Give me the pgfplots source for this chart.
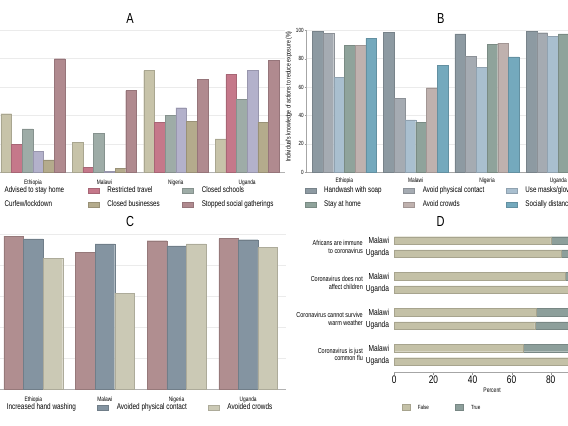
\documentclass[border=0pt]{standalone}
\usepackage{fontspec}
\setmainfont{Liberation Sans}[FakeStretch=0.76]
\usepackage{pgfplots}
\pgfplotsset{compat=1.18}
\definecolor{aBeige}{HTML}{C7C3A9}
\definecolor{aRed}{HTML}{C5788A}
\definecolor{aGreen}{HTML}{9EACA7}
\definecolor{aPurple}{HTML}{B3B1CB}
\definecolor{aTan}{HTML}{B4AB8C}
\definecolor{aMauve}{HTML}{B08A8F}
\definecolor{bHand}{HTML}{8D9AA2}
\definecolor{bPhys}{HTML}{A5ABB2}
\definecolor{bMask}{HTML}{A9BFCF}
\definecolor{bStay}{HTML}{8FA39B}
\definecolor{bCrowd}{HTML}{BFB1AE}
\definecolor{bDist}{HTML}{74A9BD}
\definecolor{cHand}{HTML}{B08E90}
\definecolor{cPhys}{HTML}{8494A1}
\definecolor{cCrowd}{HTML}{CBC9B5}
\definecolor{dFalse}{HTML}{C4C1A7}
\definecolor{dTrue}{HTML}{8D9F9B}
\pgfplotsset{
  ybar legend/.style={legend image code/.code={\draw[##1] (0pt,-2.5pt) rectangle (11pt,2.5pt);}},
  xbar legend/.style={legend image code/.code={\draw[##1] (0pt,-2.5pt) rectangle (11pt,2.5pt);}},
  bargroup/.style={
    ybar=0pt,
    scale only axis, enlargelimits=false,
    ymin=0, ymax=100, xmin=-0.53, xmax=3.53,
    xtick={0,1,2,3}, xticklabels={Ethiopia,Malawi,Nigeria,Uganda},
    xtick style={draw=none},
    ytick={0,20,...,100}, ymajorgrids, grid style={black!8},
    axis x line*=bottom, axis y line*=left, axis line style={black!30},
    xticklabel style={font=\fontsize{6.4}{7}\selectfont, inner sep=0pt, yshift=-3pt},
    legend columns=3, legend cell align=left,
    legend style={draw=none, fill=none, inner sep=0pt, column sep=0pt, row sep=6.2pt,
      anchor=west, nodes={inner sep=0pt, text height=6pt, text depth=1.7pt},
      /tikz/every odd column/.append style={column sep=8pt}},
  },
  barA/.style={fill=#1, draw=#1!85!black, line width=0.3pt},
}
\begin{document}
\begin{tikzpicture}
\useasboundingbox (0,0) rectangle (568pt,426pt);
\clip (0,0) rectangle (568pt,426pt);
\fill[white] (0,0) rectangle (568pt,426pt);

% titles
\node[font=\fontsize{14.5}{15}\selectfont] at (130pt,407.7pt) {A};
\node[font=\fontsize{14.5}{15}\selectfont] at (440.7pt,407.7pt) {B};
\node[font=\fontsize{14.5}{15}\selectfont] at (130pt,204.3pt) {C};
\node[font=\fontsize{14.5}{15}\selectfont] at (440.7pt,204.3pt) {D};

% ---------------- Panel A
\begin{axis}[bargroup, at={(-4.9pt,253.7pt)}, anchor=south west,
  width=289.9pt, height=142pt, bar width=10.7pt,
  yticklabels={}, ytick style={draw=none},
  legend style={at={(-0.0345,-0.1764)}, font=\fontsize{8.2}{9}\selectfont}]
\addplot[barA=aBeige] coordinates {(0,41.3) (1,21.1) (2,71.6) (3,23.5)};
\addlegendentry{\makebox[83.6pt][l]{Advised to stay home}}
\addplot[barA=aRed] coordinates {(0,19.9) (1,3.3) (2,35.2) (3,69.0)};
\addlegendentry{\makebox[75pt][l]{Restricted travel}}
\addplot[barA=aGreen] coordinates {(0,30.5) (1,27.5) (2,40.1) (3,51.6)};
\addlegendentry{Closed schools}
\addplot[barA=aPurple] coordinates {(0,14.8) (1,0.9) (2,45.5) (3,71.6)};
\addlegendentry{\makebox[83.6pt][l]{Curfew/lockdown}}
\addplot[barA=aTan] coordinates {(0,8.7) (1,2.6) (2,35.9) (3,35.4)};
\addlegendentry{\makebox[75pt][l]{Closed businesses}}
\addplot[barA=aMauve] coordinates {(0,80.0) (1,57.5) (2,65.5) (3,78.9)};
\addlegendentry{Stopped social gatherings}
\end{axis}

% ---------------- Panel B
\begin{axis}[bargroup, at={(306.6pt,253.7pt)}, anchor=south west,
  width=289.5pt, height=142pt, bar width=10.7pt,
  axis line style={black!35},
  tick align=outside, major tick length=2pt, ytick style={black!40},
  /pgf/number format/assume math mode=true,
  yticklabel style={font=\fontsize{6}{7}\selectfont, inner sep=0.8pt},
  ylabel={Individual's knowledge of actions to reduce exposure (\%)},
  ylabel style={font=\fontsize{6.8}{7}\selectfont, at={(axis description cs:-0.061,0.532)}, anchor=center, inner sep=0pt},
  legend style={at={(-0.0066,-0.1764)}, font=\fontsize{8.2}{9}\selectfont}]
\addplot[barA=bHand] coordinates {(0,99.3) (1,98.6) (2,97.4) (3,99.3)};
\addlegendentry{\makebox[79.3pt][l]{Handwash with soap}}
\addplot[barA=bPhys] coordinates {(0,97.9) (1,52.1) (2,81.7) (3,98.3)};
\addlegendentry{\makebox[83.3pt][l]{Avoid physical contact}}
\addplot[barA=bMask] coordinates {(0,66.9) (1,37.0) (2,73.9) (3,95.8)};
\addlegendentry{Use masks/gloves}
\addplot[barA=bStay] coordinates {(0,89.6) (1,35.4) (2,90.1) (3,97.4)};
\addlegendentry{\makebox[79.3pt][l]{Stay at home}}
\addplot[barA=bCrowd] coordinates {(0,89.2) (1,59.6) (2,91.0) (3,95.0)};
\addlegendentry{\makebox[83.3pt][l]{Avoid crowds}}
\addplot[barA=bDist] coordinates {(0,94.4) (1,75.4) (2,81.2) (3,97.0)};
\addlegendentry{Socially distance}
\end{axis}

% ---------------- Panel C
\begin{axis}[bargroup, at={(-4.6pt,36.7pt)}, anchor=south west,
  width=290.7pt, height=155pt, bar width=19.6pt,
  yticklabels={}, ytick style={draw=none},
  legend style={at={(-0.0279,-0.1187)}, font=\fontsize{8.4}{9}\selectfont}]
\addplot[barA=cHand] coordinates {(0,98.9) (1,88.4) (2,95.9) (3,97.2)};
\addlegendentry{\makebox[90.7pt][l]{Increased hand washing}}
\addplot[barA=cPhys] coordinates {(0,97.0) (1,93.9) (2,92.6) (3,96.5)};
\addlegendentry{\makebox[91.3pt][l]{Avoided physical contact}}
\addplot[barA=cCrowd] coordinates {(0,84.3) (1,61.9) (2,93.9) (3,91.4)};
\addlegendentry{Avoided crowds}
\end{axis}

% ---------------- Panel D
\begin{axis}[scale only axis, at={(394.3pt,54.3pt)}, anchor=south west,
  width=195.5pt, height=143.6pt, clip=false,
  xmin=0, xmax=100, ymin=-0.92, ymax=9.88, y dir=reverse,
  xbar stacked, bar width=7.3pt, enlargelimits=false,
  axis x line*=bottom, axis y line*=left,
  y axis line style={draw=none}, x axis line style={black!35},
  xtick={0,20,...,100}, tick align=outside, xtick style={black!40}, major tick length=3pt,
  /pgf/number format/assume math mode=true,
  xticklabel style={font=\fontsize{11}{12}\selectfont, inner sep=0.5pt},
  ytick={0,1,2.7,3.7,5.4,6.4,8.1,9.1},
  yticklabels={Malawi,Uganda,Malawi,Uganda,Malawi,Uganda,Malawi,Uganda},
  ytick style={draw=none},
  yticklabel style={font=\fontsize{8.7}{9}\selectfont, inner sep=0pt, xshift=-2pt},
  xlabel={Percent},
  xlabel style={font=\fontsize{6.6}{7}\selectfont, at={(axis description cs:0.5,-0.13)}, anchor=center, inner sep=0pt},
  legend columns=2, legend cell align=left,
  legend style={draw=none, fill=none, inner sep=0pt, column sep=0pt,
    at={(0.0358,-0.2465)}, anchor=west, font=\fontsize{6}{7}\selectfont,
    nodes={inner sep=0pt, text height=4.5pt, text depth=1.3pt},
    /tikz/every odd column/.append style={column sep=8pt}}]
\addplot[barA=dFalse] coordinates {(80.0,0) (85.4,1) (87.3,2.7) (96.0,3.7) (72.6,5.4) (71.8,6.4) (65.8,8.1) (98.0,9.1)};
\addlegendentry{\makebox[37pt][l]{False}}
\addplot[barA=dTrue] coordinates {(20.0,0) (14.6,1) (12.7,2.7) (4.0,3.7) (27.4,5.4) (28.2,6.4) (34.2,8.1) (2.0,9.1)};
\addlegendentry{True}
\node[anchor=east, align=right, font=\fontsize{7.2}{7.4}\selectfont, inner sep=0pt, xshift=-31.3pt] at (axis cs:0,0.5) {Africans are immune\\to coronavirus};
\node[anchor=east, align=right, font=\fontsize{7.2}{7.4}\selectfont, inner sep=0pt, xshift=-31.3pt] at (axis cs:0,3.2) {Coronavirus does not\\affect children};
\node[anchor=east, align=right, font=\fontsize{7.2}{7.4}\selectfont, inner sep=0pt, xshift=-31.3pt] at (axis cs:0,5.9) {Coronavirus cannot survive\\warm weather};
\node[anchor=east, align=right, font=\fontsize{7.2}{7.4}\selectfont, inner sep=0pt, xshift=-31.3pt] at (axis cs:0,8.6) {Coronavirus is just\\common flu};
\end{axis}
\end{tikzpicture}
\end{document}
